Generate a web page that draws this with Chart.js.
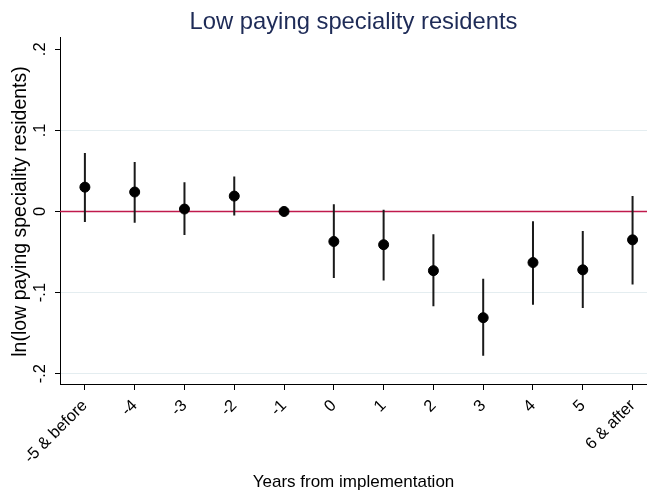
<!DOCTYPE html>
<html>
<head>
<meta charset="utf-8">
<script src="https://cdn.jsdelivr.net/npm/chart.js@4.4.0/dist/chart.umd.min.js"></script>
<style>
  html, body { margin: 0; padding: 0; background: #fff; overflow: hidden; }
  #wrap { width: 647px; height: 497px; }
  canvas { display: block; }
</style>
</head>
<body>
<div id="wrap"><canvas id="canvas"></canvas></div>
<script>
// data
var xLabels = ['-5 & before', '-4', '-3', '-2', '-1', '0', '1', '2', '3', '4', '5', '6 & after']
var coef = [0.030, 0.024, 0.003, 0.019, 0.000, -0.037, -0.041, -0.073, -0.131, -0.063, -0.072, -0.035]
var ciLow = [-0.013, -0.014, -0.029, -0.005, 0.000, -0.082, -0.085, -0.117, -0.178, -0.115, -0.119, -0.090]
var ciHigh = [0.072, 0.061, 0.036, 0.043, 0.000, 0.009, 0.002, -0.028, -0.083, -0.012, -0.024, 0.019]
var yTicks = [-0.2, -0.1, 0, 0.1, 0.2]
var refLine = 0

var xMin = -0.5, xMax = 11.29
var yMin = -0.214, yMax = 0.214

function fmt(v){
    // stata style: .1, -.2, 0
    if (Math.abs(v) < 1e-9) return '0'
    var s = String(Math.round(v * 10) / 10)
    return s.replace('0.', '.')
}

// points
var pts = coef.map(function(v, i){ return {x: i, y: v} })

// error bars, broken with nulls
var bars = []
for (var i = 0; i < coef.length; i++) {
    if (ciLow[i] === ciHigh[i]) continue
    bars.push({x: i, y: ciLow[i]})
    bars.push({x: i, y: ciHigh[i]})
    bars.push({x: i, y: null})
}

var font = "'Liberation Sans', Arial, sans-serif"

var chart = new Chart(canvas, {
    type: 'scatter',
    data: {
        datasets: [{
            type: 'line',
            data: [{x: xMin, y: refLine}, {x: xMax, y: refLine}],
            borderColor: '#c01a4c',
            borderWidth: 1.6,
            pointRadius: 0,
            fill: false,
            order: 3
        }, {
            type: 'line',
            data: bars,
            borderColor: '#1a1a1a',
            borderWidth: 2,
            pointRadius: 0,
            spanGaps: false,
            fill: false,
            order: 2
        }, {
            data: pts,
            backgroundColor: '#000',
            borderColor: '#000',
            pointRadius: 5,
            pointHoverRadius: 5,
            order: 1
        }]
    },
    options: {
        responsive: true,
        maintainAspectRatio: false,
        animation: false,
        layout: {
            autoPadding: false,
            padding: {left: 0, right: 0, top: 0, bottom: 0}
        },
        plugins: {
            legend: {display: false},
            tooltip: {enabled: false},
            title: {
                display: true,
                text: 'Low paying speciality residents',
                color: '#1e2b57',
                fullSize: false,
                font: {family: font, size: 23.8, weight: 'normal', lineHeight: 1.2},
                padding: {top: 8, bottom: 1.4}
            }
        },
        scales: {
            x: {
                type: 'linear',
                min: xMin,
                max: xMax,
                afterBuildTicks: function(scale){
                    scale.ticks = xLabels.map(function(l, i){ return {value: i} })
                },
                afterFit: function(scale){
                    scale.height = 112
                    // plot runs to the right edge like the original
                    scale.paddingLeft = 0
                    scale.paddingRight = 0
                },
                border: {color: '#000', width: 1},
                grid: {drawOnChartArea: false, tickColor: '#000', tickLength: 5},
                ticks: {
                    minRotation: 45,
                    maxRotation: 45,
                    padding: 6,
                    color: '#000',
                    font: {family: font, size: 16.5},
                    callback: function(v){ return xLabels[v] }
                },
                title: {
                    display: true,
                    text: 'Years from implementation',
                    color: '#000',
                    font: {family: font, size: 17, lineHeight: 1.2},
                    padding: {top: 4, bottom: 4}
                }
            },
            y: {
                min: yMin,
                max: yMax,
                afterBuildTicks: function(scale){
                    scale.ticks = yTicks.map(function(v){ return {value: v} })
                },
                afterFit: function(scale){
                    scale.width = 60
                    scale.paddingTop = 0
                    scale.paddingBottom = 0
                },
                border: {color: '#000', width: 1},
                grid: {
                    color: function(ctx){
                        return ctx.tick && ctx.tick.value === yTicks[yTicks.length - 1] ? 'rgba(0,0,0,0)' : '#e4edf0'
                    },
                    lineWidth: 1,
                    tickColor: '#000',
                    tickLength: 5
                },
                ticks: {
                    minRotation: 90,
                    maxRotation: 90,
                    crossAlign: 'center',
                    padding: 5,
                    color: '#000',
                    font: {family: font, size: 16.5},
                    callback: function(v){ return fmt(v) }
                },
                title: {
                    display: true,
                    text: 'ln(low paying speciality residents)',
                    color: '#000',
                    font: {family: font, size: 19.5, lineHeight: 1.2},
                    padding: {top: 9, bottom: 0}
                }
            }
        }
    }
})
</script>
</body>
</html>
